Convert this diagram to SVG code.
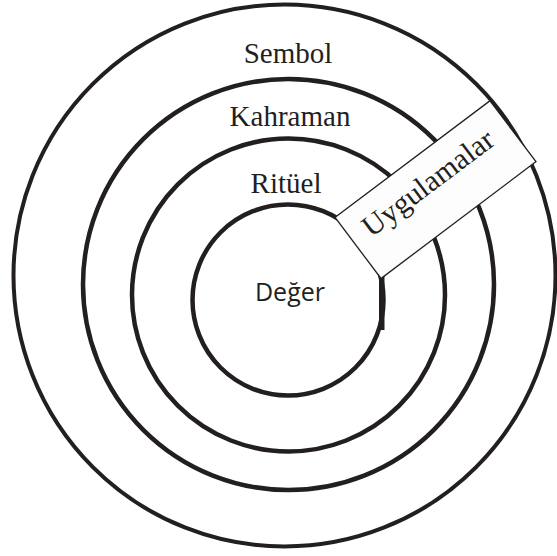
<svg xmlns="http://www.w3.org/2000/svg" width="557" height="556" viewBox="0 0 557 556">
<style>
.ring{fill:none;stroke:#231f20;stroke-width:4.5}
.lbl{font-family:"Liberation Serif","Times New Roman",serif;font-size:29px;fill:#231f20;text-anchor:middle}
.sans{font-family:"Open Sans","Noto Sans",sans-serif;font-size:25px;fill:#231f20;text-anchor:middle}
.box{fill:#fdfdfd;stroke:#231f20;stroke-width:1.3}
</style>
<rect width="557" height="556" fill="#ffffff"/>
<g id="sembol">
<circle class="ring" cx="284.5" cy="275.5" r="271" style="stroke-width:4"/>
<text class="lbl" x="288" y="63">Sembol</text>
</g>
<g id="kahraman">
<circle class="ring" cx="288.5" cy="284.5" r="205.5"/>
<text class="lbl" x="290" y="126">Kahraman</text>
</g>
<g id="rituel">
<circle class="ring" cx="288.5" cy="295" r="156.5"/>
<text class="lbl" x="286" y="193">Ritüel</text>
</g>
<g id="deger">
<circle class="ring" cx="288" cy="300" r="95.5"/>
<rect x="379" y="274" width="5.5" height="56" fill="#231f20"/>
<text class="sans" x="290" y="301">Değer</text>
</g>
<g id="uygulamalar" transform="translate(435.5,189.6) rotate(-37)">
<rect class="box" x="-97" y="-38.2" width="194" height="76.4"/>
<text class="lbl" x="-2" y="0" style="font-size:30px">Uygulamalar</text>
</g>
<g id="connectors"/>
</svg>
